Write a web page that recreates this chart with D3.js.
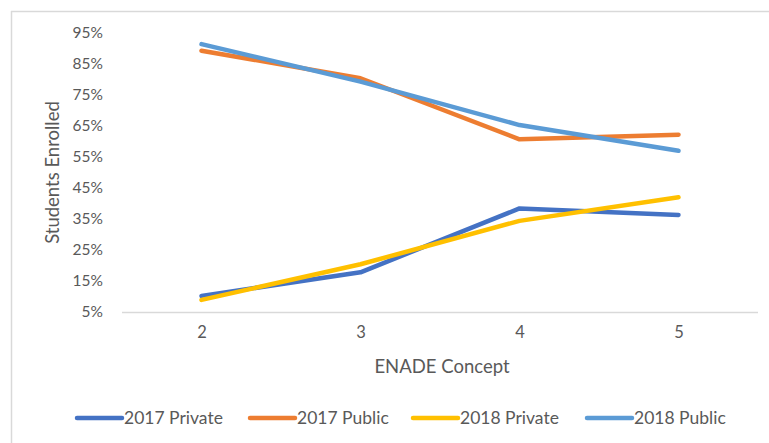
<!DOCTYPE html>
<html>
<head>
<meta charset="utf-8">
<script src="https://cdn.jsdelivr.net/npm/d3@7"></script>
<style>
  html, body { margin: 0; padding: 0; background: #fff; }
  svg text { font-family: Lato, "Open Sans", sans-serif; fill: #595959; }
</style>
</head>
<body>
<svg id="chart" width="769" height="443"></svg>
<script>
// ENADE concept levels on the x axis
const concepts = ["2", "3", "4", "5"];
// share of students enrolled, percent
const private2017 = [10.2, 17.8, 38.4, 36.3];
const public2017  = [89.3, 80.4, 60.7, 62.2];
const private2018 = [8.9, 20.4, 34.4, 42.0];
const public2018  = [91.4, 79.3, 65.3, 57.0];
const yTicks = [5, 15, 25, 35, 45, 55, 65, 75, 85, 95];
const seriesNames = ["2017 Private", "2017 Public", "2018 Private", "2018 Public"];
const seriesColors = ["#4472C4", "#ED7D31", "#FFC000", "#5B9BD5"];

const series = [private2017, public2017, private2018, public2018].map((values, i) => ({
  name: seriesNames[i], color: seriesColors[i], values
}));

const svg = d3.select("#chart");

// frame edges (top and left)
svg.append("line").attr("x1", 11).attr("x2", 769).attr("y1", 11.5).attr("y2", 11.5)
  .attr("stroke", "#d9d9d9").attr("stroke-width", 1.5);
svg.append("line").attr("x1", 11.5).attr("x2", 11.5).attr("y1", 11).attr("y2", 443)
  .attr("stroke", "#d9d9d9").attr("stroke-width", 1.5);

const plot = { left: 122, right: 758, top: 33, bottom: 312 };

const x = d3.scalePoint().domain(concepts)
  .range([plot.left, plot.right]).padding(0.5);
const y = d3.scaleLinear().domain([5, 95]).range([plot.bottom, plot.top]);

// y axis labels
const yAxis = d3.axisLeft(y).tickValues(yTicks).tickFormat(d => d + "%").tickSize(0).tickPadding(0);
const yg = svg.append("g").attr("transform", `translate(${plot.left - 19},0)`).call(yAxis);
yg.select(".domain").remove();
yg.selectAll("text").attr("font-size", 15.5).style("font-family", "Lato, sans-serif").attr("fill", "#595959");

// x axis baseline and labels
const xAxis = d3.axisBottom(x).tickSize(0).tickPadding(14);
const xg = svg.append("g").attr("transform", `translate(0,${plot.bottom})`).call(xAxis);
xg.select(".domain").remove();
xg.selectAll("text").attr("font-size", 16.5).style("font-family", "Lato, sans-serif").attr("fill", "#595959");
svg.append("line").attr("x1", plot.left).attr("x2", plot.right)
  .attr("y1", plot.bottom + 0.5).attr("y2", plot.bottom + 0.5)
  .attr("stroke", "#d9d9d9").attr("stroke-width", 1.5);

// axis titles
svg.append("text").attr("x", (plot.left + plot.right) / 2 + 2).attr("y", 373)
  .attr("text-anchor", "middle").attr("font-size", 18.5).text("ENADE Concept");
svg.append("text").attr("transform", `translate(59,${(plot.top + plot.bottom) / 2 + 0}) rotate(-90)`)
  .attr("text-anchor", "middle").attr("font-size", 18.5).text("Students Enrolled");

// series lines
const line = d3.line().x((d, i) => x(concepts[i])).y(d => y(d));
svg.append("g").selectAll("path").data(series).join("path")
  .attr("d", d => line(d.values))
  .attr("fill", "none")
  .attr("stroke", d => d.color)
  .attr("stroke-width", 4.5)
  .attr("stroke-linejoin", "round")
  .attr("stroke-linecap", "round");

// legend
const legendX = [77, 250, 413, 587];
const lg = svg.append("g").selectAll("g").data(series).join("g")
  .attr("transform", (d, i) => `translate(${legendX[i]},418)`);
lg.append("line").attr("x1", 0).attr("x2", 45).attr("y1", 0).attr("y2", 0)
  .attr("stroke", d => d.color).attr("stroke-width", 4.5).attr("stroke-linecap", "round");
lg.append("text").attr("x", 47).attr("y", 6).attr("font-size", 17.5).text(d => d.name);
</script>
</body>
</html>
